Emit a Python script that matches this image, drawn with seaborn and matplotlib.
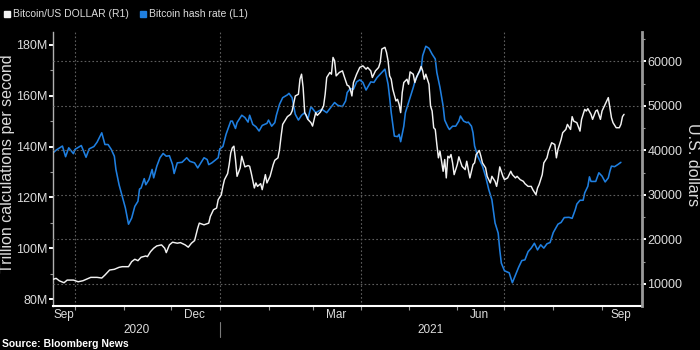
import matplotlib
matplotlib.use("Agg")
import numpy as np
import pandas as pd
import matplotlib.pyplot as plt
import matplotlib.dates as mdates
import matplotlib.ticker as mticker
import matplotlib.transforms as mtrans
from matplotlib.patches import Rectangle
import seaborn as sns

# ---------------- data ----------------
hash_dates = [
    "2020-09-17", "2020-09-19", "2020-09-23", "2020-09-25", "2020-09-27", "2020-09-30",
    "2020-10-01", "2020-10-05", "2020-10-08", "2020-10-10", "2020-10-13", "2020-10-15",
    "2020-10-18", "2020-10-20", "2020-10-22", "2020-10-24", "2020-10-26", "2020-10-27",
    "2020-10-29", "2020-10-31", "2020-11-02", "2020-11-04", "2020-11-06", "2020-11-08",
    "2020-11-10", "2020-11-11", "2020-11-12", "2020-11-14", "2020-11-15", "2020-11-17",
    "2020-11-19", "2020-11-20", "2020-11-22", "2020-11-24", "2020-11-26", "2020-11-28",
    "2020-11-30", "2020-12-02", "2020-12-03", "2020-12-05", "2020-12-08", "2020-12-11",
    "2020-12-13", "2020-12-16", "2020-12-18", "2020-12-22", "2020-12-24", "2020-12-25",
    "2020-12-27", "2020-12-29", "2020-12-31", "2021-01-01", "2021-01-03", "2021-01-05",
    "2021-01-08", "2021-01-09", "2021-01-11", "2021-01-12", "2021-01-15", "2021-01-17",
    "2021-01-19", "2021-01-20", "2021-01-22", "2021-01-24", "2021-01-26", "2021-01-28",
    "2021-01-31", "2021-02-01", "2021-02-03", "2021-02-05", "2021-02-06", "2021-02-08",
    "2021-02-10", "2021-02-13", "2021-02-14", "2021-02-16", "2021-02-17", "2021-02-18",
    "2021-02-20", "2021-02-22", "2021-02-24", "2021-02-26", "2021-02-28", "2021-03-03",
    "2021-03-05", "2021-03-07", "2021-03-10", "2021-03-12", "2021-03-15", "2021-03-17",
    "2021-03-20", "2021-03-22", "2021-03-23", "2021-03-25", "2021-03-27", "2021-03-29",
    "2021-03-31", "2021-04-02", "2021-04-04", "2021-04-07", "2021-04-09", "2021-04-11",
    "2021-04-13", "2021-04-15", "2021-04-16", "2021-04-18", "2021-04-19", "2021-04-20",
    "2021-04-22", "2021-04-24", "2021-04-25", "2021-04-26", "2021-04-28", "2021-04-29",
    "2021-05-02", "2021-05-04", "2021-05-05", "2021-05-07", "2021-05-09", "2021-05-10",
    "2021-05-12", "2021-05-14", "2021-05-16", "2021-05-18", "2021-05-19", "2021-05-21",
    "2021-05-23", "2021-05-24", "2021-05-26", "2021-05-27", "2021-05-29", "2021-05-31",
    "2021-06-02", "2021-06-03", "2021-06-05", "2021-06-07", "2021-06-08", "2021-06-10",
    "2021-06-11", "2021-06-12", "2021-06-14", "2021-06-17", "2021-06-19", "2021-06-21",
    "2021-06-23", "2021-06-24", "2021-06-25", "2021-06-27", "2021-06-28", "2021-06-29",
    "2021-07-01", "2021-07-04", "2021-07-06", "2021-07-08", "2021-07-10", "2021-07-12",
    "2021-07-14", "2021-07-16", "2021-07-18", "2021-07-20", "2021-07-22", "2021-07-24",
    "2021-07-26", "2021-07-28", "2021-07-30", "2021-08-01", "2021-08-02", "2021-08-04",
    "2021-08-06", "2021-08-08", "2021-08-11", "2021-08-13", "2021-08-15", "2021-08-16",
    "2021-08-18", "2021-08-20", "2021-08-21", "2021-08-23", "2021-08-24", "2021-08-25",
    "2021-08-28", "2021-08-30", "2021-09-01", "2021-09-03", "2021-09-05", "2021-09-06",
    "2021-09-07", "2021-09-09", "2021-09-11", "2021-09-13",
]
hash_values = [
    137.5, 138.6, 140.2, 136.0, 139.5, 137.2,
    138.9, 140.4, 135.8, 139.1, 140.0, 141.7,
    145.4, 140.8, 140.8, 138.9, 136.2, 131.0,
    125.0, 120.4, 115.9, 109.5, 111.9, 116.5,
    118.5, 123.3, 123.7, 127.4, 125.0, 127.0,
    131.0, 127.7, 132.3, 135.6, 137.3, 136.2,
    136.4, 132.9, 129.4, 133.6, 133.8, 135.6,
    134.2, 133.6, 131.6, 135.6, 134.9, 132.9,
    133.6, 134.6, 135.6, 139.1, 140.0, 144.8,
    150.0, 150.0, 147.1, 149.4, 152.3, 151.4,
    149.6, 152.3, 148.7, 147.8, 146.1, 148.3,
    149.1, 150.4, 148.0, 149.4, 152.3, 156.6,
    159.2, 160.3, 160.9, 159.2, 155.9, 152.7,
    150.4, 152.3, 153.3, 150.7, 155.7, 153.3,
    154.0, 154.6, 153.3, 154.9, 157.3, 156.2,
    155.7, 157.9, 161.2, 162.8, 162.5, 165.4,
    166.2, 165.2, 162.2, 165.4, 165.2, 167.1,
    168.4, 169.7, 170.4, 164.5, 159.2, 153.3,
    144.1, 143.9, 144.8, 141.9, 148.0, 153.3,
    159.2, 163.2, 165.4, 168.4, 170.4, 175.7,
    179.4, 178.6, 176.3, 174.4, 169.1, 163.2,
    155.9, 150.4, 147.7, 146.7, 148.0, 148.0,
    150.0, 152.0, 150.0, 149.4, 149.6, 148.0,
    145.4, 140.2, 136.2, 132.3, 128.3, 123.1,
    119.1, 114.5, 110.0, 106.0, 99.4, 94.2,
    91.2, 90.4, 86.5, 89.5, 92.6, 95.2,
    95.5, 98.7, 100.1, 102.0, 99.4, 101.4,
    100.1, 101.8, 102.3, 106.2, 107.3, 109.5,
    110.2, 112.1, 112.2, 111.8, 115.2, 117.4,
    118.9, 118.9, 121.8, 124.4, 128.1, 126.3,
    126.3, 129.7, 128.4, 126.1, 127.7, 130.3,
    132.3, 132.1, 132.9, 133.8,
]

btc_dates = [
    "2020-09-17", "2020-09-19", "2020-09-21", "2020-09-24", "2020-09-26", "2020-09-30",
    "2020-10-03", "2020-10-06", "2020-10-08", "2020-10-11", "2020-10-15", "2020-10-18",
    "2020-10-20", "2020-10-23", "2020-10-26", "2020-10-29", "2020-10-31", "2020-11-04",
    "2020-11-06", "2020-11-08", "2020-11-10", "2020-11-12", "2020-11-15", "2020-11-16",
    "2020-11-18", "2020-11-20", "2020-11-22", "2020-11-25", "2020-11-27", "2020-11-28",
    "2020-11-30", "2020-12-02", "2020-12-05", "2020-12-07", "2020-12-10", "2020-12-12",
    "2020-12-14", "2020-12-16", "2020-12-18", "2020-12-19", "2020-12-22", "2020-12-25",
    "2020-12-26", "2020-12-28", "2020-12-30", "2020-12-31", "2021-01-02", "2021-01-03",
    "2021-01-04", "2021-01-06", "2021-01-07", "2021-01-08", "2021-01-09", "2021-01-10",
    "2021-01-11", "2021-01-12", "2021-01-14", "2021-01-15", "2021-01-17", "2021-01-19",
    "2021-01-20", "2021-01-21", "2021-01-23", "2021-01-24", "2021-01-25", "2021-01-27",
    "2021-01-28", "2021-01-30", "2021-01-31", "2021-02-02", "2021-02-04", "2021-02-05",
    "2021-02-07", "2021-02-08", "2021-02-09", "2021-02-10", "2021-02-12", "2021-02-13",
    "2021-02-15", "2021-02-16", "2021-02-18", "2021-02-20", "2021-02-21", "2021-02-22",
    "2021-02-23", "2021-02-24", "2021-02-25", "2021-02-26", "2021-02-28", "2021-03-01",
    "2021-03-03", "2021-03-04", "2021-03-06", "2021-03-08", "2021-03-09", "2021-03-10",
    "2021-03-12", "2021-03-13", "2021-03-14", "2021-03-15", "2021-03-16", "2021-03-18",
    "2021-03-20", "2021-03-21", "2021-03-23", "2021-03-24", "2021-03-25", "2021-03-26",
    "2021-03-27", "2021-03-29", "2021-03-31", "2021-04-02", "2021-04-04", "2021-04-05",
    "2021-04-07", "2021-04-08", "2021-04-10", "2021-04-12", "2021-04-13", "2021-04-14",
    "2021-04-16", "2021-04-17", "2021-04-18", "2021-04-19", "2021-04-20", "2021-04-21",
    "2021-04-23", "2021-04-24", "2021-04-25", "2021-04-26", "2021-04-27", "2021-04-28",
    "2021-04-30", "2021-05-01", "2021-05-02", "2021-05-04", "2021-05-05", "2021-05-06",
    "2021-05-08", "2021-05-09", "2021-05-10", "2021-05-11", "2021-05-12", "2021-05-14",
    "2021-05-15", "2021-05-16", "2021-05-17", "2021-05-18", "2021-05-19", "2021-05-20",
    "2021-05-21", "2021-05-23", "2021-05-24", "2021-05-25", "2021-05-26", "2021-05-27",
    "2021-05-28", "2021-05-29", "2021-05-30", "2021-06-01", "2021-06-02", "2021-06-04",
    "2021-06-06", "2021-06-07", "2021-06-09", "2021-06-11", "2021-06-12", "2021-06-13",
    "2021-06-15", "2021-06-16", "2021-06-17", "2021-06-19", "2021-06-20", "2021-06-22",
    "2021-06-23", "2021-06-25", "2021-06-26", "2021-06-27", "2021-06-28", "2021-06-30",
    "2021-07-01", "2021-07-03", "2021-07-05", "2021-07-06", "2021-07-08", "2021-07-09",
    "2021-07-11", "2021-07-13", "2021-07-14", "2021-07-16", "2021-07-18", "2021-07-19",
    "2021-07-21", "2021-07-22", "2021-07-23", "2021-07-25", "2021-07-26", "2021-07-28",
    "2021-07-29", "2021-07-31", "2021-08-02", "2021-08-03", "2021-08-04", "2021-08-06",
    "2021-08-07", "2021-08-09", "2021-08-10", "2021-08-12", "2021-08-13", "2021-08-14",
    "2021-08-16", "2021-08-18", "2021-08-19", "2021-08-21", "2021-08-22", "2021-08-23",
    "2021-08-25", "2021-08-26", "2021-08-28", "2021-08-29", "2021-08-31", "2021-09-01",
    "2021-09-03", "2021-09-04", "2021-09-05", "2021-09-07", "2021-09-08", "2021-09-10",
    "2021-09-12", "2021-09-13", "2021-09-14", "2021-09-15",
]
btc_values = [
    11020, 11250, 10700, 10260, 10860, 10860,
    10480, 10710, 11020, 11470, 11470, 11320,
    11990, 13120, 13280, 13730, 13870, 13870,
    15000, 15540, 15220, 15990, 16280, 16120,
    17250, 18020, 18540, 18770, 18020, 17030,
    18770, 19370, 19150, 19280, 18770, 18250,
    19150, 19740, 22530, 23660, 23280, 23660,
    25150, 26660, 27050, 28920, 30050, 31920,
    33430, 34790, 36820, 39460, 40590, 40950,
    37950, 34180, 36080, 38690, 36300, 36600,
    36440, 34950, 31560, 32690, 31920, 32530,
    31180, 34560, 32690, 34180, 36820, 37790,
    38330, 40210, 43210, 45850, 46980, 47590,
    48110, 48850, 52240, 52620, 56000, 57130,
    54130, 48490, 47880, 46980, 46230, 45470,
    48490, 47880, 48620, 49980, 52620, 56390,
    57520, 57130, 60900, 60140, 56750, 57520,
    57880, 56750, 54650, 54490, 53750, 52240,
    55260, 57130, 58650, 59010, 58260, 58650,
    57880, 56390, 57880, 58650, 59770, 62780,
    63160, 62030, 60140, 56750, 56000, 53750,
    51110, 51490, 50360, 48490, 53000, 55260,
    56000, 54880, 57650, 57130, 55260, 56390,
    57880, 58870, 57880, 56000, 57130, 54880,
    49980, 48850, 45100, 44720, 41330, 38330,
    39820, 35310, 37950, 33820, 38690, 38330,
    39080, 37200, 34560, 36820, 38560, 36440,
    35690, 37570, 33820, 36820, 37200, 39080,
    39980, 38690, 37200, 36080, 34180, 32690,
    34180, 33050, 31920, 33820, 36300, 34180,
    33430, 33820, 35310, 34560, 33820, 34180,
    33430, 33050, 32530, 31920, 31920, 31180,
    30050, 31560, 32310, 34560, 37200, 38330,
    39820, 41720, 41330, 38330, 40210, 42460,
    43980, 44720, 45850, 44720, 47590, 46590,
    46230, 44340, 46980, 49230, 48850, 49390,
    48110, 46980, 48850, 49080, 46980, 48850,
    50360, 51110, 51870, 47360, 46230, 45100,
    45100, 45850, 47590, 48110,
]

left_ticks = [80, 100, 120, 140, 160, 180]
right_ticks = [10000, 20000, 30000, 40000, 50000, 60000]
month_labels = ["Sep", "Dec", "Mar", "Jun", "Sep"]
month_label_dates = ["2020-09-24", "2020-12-16", "2021-03-16", "2021-06-15", "2021-09-13"]
year_labels = ["2020", "2021"]
year_label_dates = ["2020-11-09", "2021-05-15"]
year_boundary = "2021-01-01"
x_start, x_end = "2020-09-17", "2021-09-26 10:00"

series_names = ["Bitcoin/US DOLLAR (R1)", "Bitcoin hash rate (L1)"]

# ---------------- style ----------------
sns.set_style("dark", {"axes.facecolor": "black", "figure.facecolor": "black"})
plt.rcParams["font.family"] = ["Liberation Sans", "DejaVu Sans"]
TXT = "#dcdcdc"
BLUE = "#1f7fe0"
WHITE = "#f2f2f2"
GRID = "#5e5e5e"

hash_df = pd.DataFrame({"date": pd.to_datetime(hash_dates), "value": hash_values})
btc_df = pd.DataFrame({"date": pd.to_datetime(btc_dates), "value": btc_values})

fig = plt.figure(figsize=(7, 3.5), dpi=100, facecolor="black")
ax = fig.add_axes([53 / 700, 44 / 350, 589 / 700, 274 / 350])
ax.set_facecolor("black")
ax2 = ax.twinx()
ax2.set_facecolor("none")

sns.lineplot(data=hash_df, x="date", y="value", ax=ax, color=BLUE, linewidth=1.15)
sns.lineplot(data=btc_df, x="date", y="value", ax=ax2, color=WHITE, linewidth=1.05)

ax.set_xlim(pd.Timestamp(x_start), pd.Timestamp(x_end))
ax.set_ylim(77.36, 185.0)
ax2.set_ylim(5035, 66613)
ax.set_xlabel("")
ax.set_ylabel("")
ax2.set_xlabel("")
ax2.set_ylabel("")

# x axis
ax.xaxis.set_major_locator(mdates.MonthLocator(bymonth=[1, 4, 7, 10]))
ax.xaxis.set_minor_locator(mdates.MonthLocator())
ax.xaxis.set_major_formatter(mticker.NullFormatter())
ax.xaxis.set_minor_formatter(mticker.NullFormatter())
ax.tick_params(axis="x", which="both", bottom=True, length=3, width=0.8, color="#9a9a9a")

# left axis
ax.set_yticks(left_ticks)
ax.yaxis.set_minor_locator(mticker.MultipleLocator(10))
ax.yaxis.set_major_formatter(mticker.FuncFormatter(lambda v, p: f"{v:.0f}M"))
ax.tick_params(axis="y", which="major", left=True, length=3, width=1.4, color="white",
               labelsize=9, labelcolor=TXT, pad=1)
ax.tick_params(axis="y", which="minor", left=True, length=2, width=0.8, color="#9a9a9a")

# right axis
ax2.set_yticks(right_ticks)
ax2.yaxis.set_minor_locator(mticker.MultipleLocator(5000))
ax2.yaxis.set_major_formatter(mticker.FuncFormatter(lambda v, p: f"{v:.0f}"))
ax2.tick_params(axis="y", which="major", right=True, length=3, width=1.4, color="white",
                labelsize=9, labelcolor=TXT, pad=1)
ax2.tick_params(axis="y", which="minor", right=True, length=2, width=0.8, color="#9a9a9a")

# grids
ax.grid(False)
ax2.grid(False)
ax.grid(axis="x", which="major", color=GRID, linestyle=(0, (1.5, 2)), linewidth=0.8)
ax2.grid(axis="y", which="major", color=GRID, linestyle=(0, (1.5, 2)), linewidth=0.8)
ax2.set_axisbelow(True)

# spines
for s in ["top", "right"]:
    ax.spines[s].set_visible(False)
ax.spines["left"].set_color("#b0b0b0")
ax.spines["left"].set_linewidth(1.0)
ax.spines["bottom"].set_color("white")
ax.spines["bottom"].set_linewidth(1.5)
for s in ["top", "left", "bottom"]:
    ax2.spines[s].set_visible(False)
ax2.spines["right"].set_color("#9a9a9a")
ax2.spines["right"].set_linewidth(2.0)

# month & year labels
bt = mtrans.blended_transform_factory(ax.transData, ax.transAxes)
for lab, d in zip(month_labels, month_label_dates):
    ax.text(mdates.date2num(pd.Timestamp(d)), -0.033, lab, transform=bt, ha="center",
            va="center", fontsize=8.5, color=TXT, clip_on=False)
for lab, d in zip(year_labels, year_label_dates):
    ax.text(mdates.date2num(pd.Timestamp(d)), -0.089, lab, transform=bt, ha="center",
            va="center", fontsize=8.5, color=TXT, clip_on=False)
xb = mdates.date2num(pd.Timestamp(year_boundary))
ax.plot([xb, xb], [-0.058, -0.114], transform=bt, color="#7a7a7a", linewidth=0.8,
        clip_on=False)

# axis titles
fig.text(8 / 700, 1 - 164 / 350, "Trillion calculations per second", rotation=90,
         ha="center", va="center", fontsize=11.5, color=TXT)
fig.text(692 / 700, 1 - 165 / 350, "U.S. dollars", rotation=270,
         ha="center", va="center", fontsize=11.5, color=TXT)

# legend
fig.patches.append(Rectangle((4 / 700, 1 - 17 / 350), 6 / 700, 6 / 350,
                             transform=fig.transFigure, color=WHITE))
fig.text(13 / 700, 1 - 14 / 350, series_names[0], ha="left", va="center",
         fontsize=7.5, color=TXT)
fig.patches.append(Rectangle((140 / 700, 1 - 17 / 350), 6 / 700, 6 / 350,
                             transform=fig.transFigure, color=BLUE))
fig.text(149 / 700, 1 - 14 / 350, series_names[1], ha="left", va="center",
         fontsize=7.5, color=TXT)

# source
fig.text(2 / 700, 1 - 344 / 350, "Source: Bloomberg News", ha="left", va="center",
         fontsize=7.5, fontweight="bold", color="white")

fig.savefig("out.png", dpi=100, facecolor="black")
